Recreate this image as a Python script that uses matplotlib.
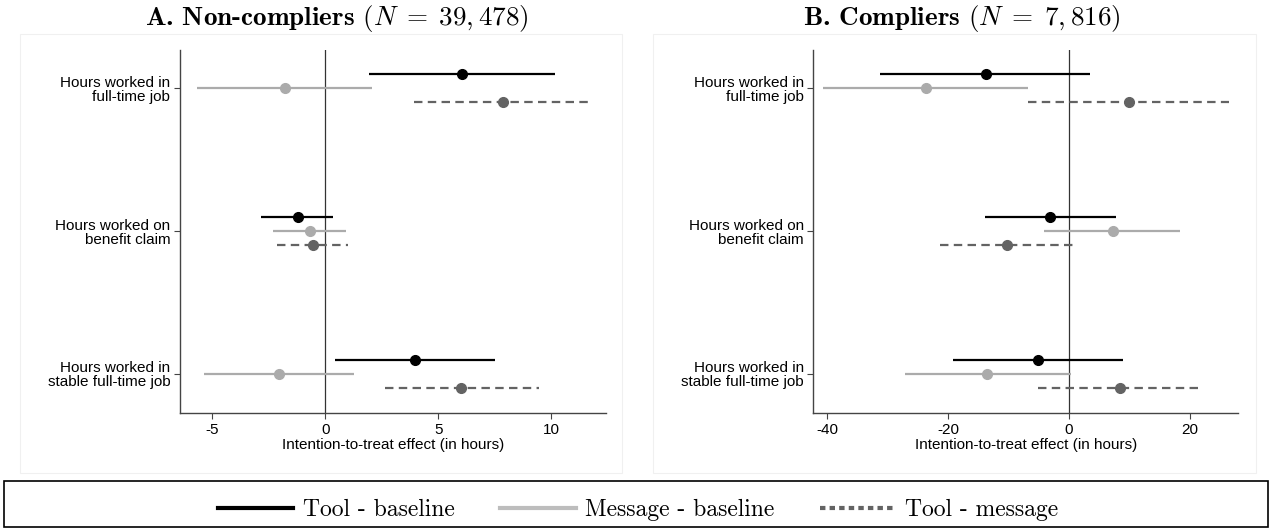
import numpy as np
import matplotlib
matplotlib.use('Agg')
from matplotlib import pyplot as plt
from matplotlib.lines import Line2D
from matplotlib.patches import Rectangle

plt.rcParams['axes.unicode_minus'] = False
plt.rcParams['mathtext.fontset'] = 'cm'
plt.rcParams['font.family'] = ['Liberation Sans', 'DejaVu Sans']

outcomes = ['Hours worked in\nfull-time job',
            'Hours worked on\nbenefit claim',
            'Hours worked in\nstable full-time job']

# panel A: non-compliers
a_tool_est = [6.08, -1.23, 3.98]
a_tool_lo = [1.93, -2.84, 0.42]
a_tool_hi = [10.18, 0.33, 7.52]
a_msg_est = [-1.77, -0.67, -2.04]
a_msg_lo = [-5.68, -2.30, -5.37]
a_msg_hi = [2.08, 0.92, 1.25]
a_tm_est = [7.88, -0.56, 6.02]
a_tm_lo = [3.94, -2.12, 2.64]
a_tm_hi = [11.86, 1.01, 9.46]
a_xticks = [-5, 0, 5, 10]

# panel B: compliers
b_tool_est = [-13.75, -3.06, -5.05]
b_tool_lo = [-31.2, -13.9, -19.2]
b_tool_hi = [3.5, 7.84, 9.04]
b_msg_est = [-23.65, 7.24, -13.5]
b_msg_lo = [-40.7, -4.05, -27.2]
b_msg_hi = [-6.7, 18.4, 0.27]
b_tm_est = [9.9, -10.3, 8.44]
b_tm_lo = [-6.7, -21.3, -5.05]
b_tm_hi = [26.5, 0.8, 22.0]
b_xticks = [-40, -20, 0, 20]

series_names = ['Tool - baseline', 'Message - baseline', 'Tool - message']
colors = ['#000000', '#ababab', '#636363']
dash = (0, (3.8, 2.4))


def draw_panel(ax, rows, xticks, xlim):
    ypos = np.array([3, 2, 1])
    offs = [0.1, 0.0, -0.1]
    for k, (est, lo, hi) in enumerate(rows):
        y = ypos + offs[k]
        ls = dash if k == 2 else '-'
        ax.hlines(y, lo, hi, colors=colors[k], linewidth=1.6, linestyles=[ls], zorder=2)
        ax.plot(est, y, 'o', color=colors[k], markersize=7, zorder=3)
    ax.axvline(0, color='#333333', linewidth=0.9, zorder=1)
    ax.set_xlim(*xlim)
    ax.set_ylim(0.727, 3.266)
    ax.set_yticks(ypos)
    ax.set_yticklabels(outcomes, ha='right', fontsize=11, linespacing=1.0)
    ax.set_xticks(xticks)
    ax.set_xticklabels([str(t) for t in xticks], fontsize=11)
    ax.set_xlabel('Intention-to-treat effect (in hours)', fontsize=11, labelpad=1)
    for s in ['top', 'right']:
        ax.spines[s].set_visible(False)
    for s in ['left', 'bottom']:
        ax.spines[s].set_color('#444444')
        ax.spines[s].set_linewidth(1.0)
    ax.tick_params(axis='both', length=4, color='#444444', pad=3)


fig = plt.figure(figsize=(12.71, 5.28), dpi=100)
axA = fig.add_axes([0.1416, 0.2178, 0.3352, 0.6875])
axB = fig.add_axes([0.6400, 0.2178, 0.3340, 0.6875])

draw_panel(axA, [(a_tool_est, a_tool_lo, a_tool_hi),
                 (a_msg_est, a_msg_lo, a_msg_hi),
                 (a_tm_est, a_tm_lo, a_tm_hi)],
           a_xticks, (-6.44, 12.44))
draw_panel(axB, [(b_tool_est, b_tool_lo, b_tool_hi),
                 (b_msg_est, b_msg_lo, b_msg_hi),
                 (b_tm_est, b_tm_lo, b_tm_hi)],
           b_xticks, (-42.3, 28.0))

# panel frames (very faint)
W, H = 1271.0, 528.0
for x0, x1 in [(20, 622), (653, 1256)]:
    fig.patches.append(Rectangle((x0 / W, 1 - 473 / H), (x1 - x0) / W, (473 - 34) / H,
                                 transform=fig.transFigure, fill=False,
                                 edgecolor='#f0f0f0', linewidth=0.8, zorder=0))

fig.text(337 / W, 1 - 18 / H, r'A. Non-compliers $(N\;=\;39,478)$', fontfamily='cmb10',
         fontsize=19.5, ha='center', va='center')
fig.text(962 / W, 1 - 18 / H, r'B. Compliers $(N\;=\;7,816)$', fontfamily='cmb10',
         fontsize=19.5, ha='center', va='center')

# legend box
fig.patches.append(Rectangle((4 / W, 1 - 527 / H), 1264 / W, 46 / H,
                             transform=fig.transFigure, fill=False,
                             edgecolor='black', linewidth=1.2))
handles = [Line2D([], [], color=colors[0], linewidth=3),
           Line2D([], [], color='#bdbdbd', linewidth=3),
           Line2D([], [], color=colors[2], linewidth=3, linestyle=(0, (1.3, 1.0)))]
fig.legend(handles, series_names, loc='center', bbox_to_anchor=(638 / W, 1 - 510 / H),
           ncol=3, frameon=False, prop={'family': 'cmr10', 'size': 17},
           handlelength=3.2, handletextpad=0.42, columnspacing=1.9)

fig.savefig('out.png', dpi=100)
